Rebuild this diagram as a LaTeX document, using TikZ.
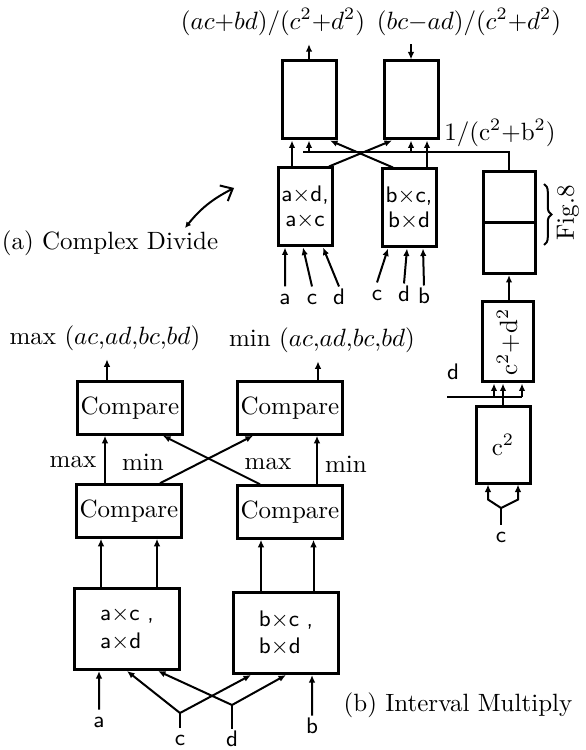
\documentclass[tikz,border=0pt]{standalone}
\usepackage{amsmath,amssymb}
\usepackage{graphicx}
\usepackage{tikz}
\usetikzlibrary{arrows.meta,calc,positioning,decorations.pathreplacing}

\begin{document}
\begin{tikzpicture}[
      x=0.4pt, y=-0.4pt,
      tall/.style={draw, line width=1.2pt, minimum width=21.6pt, minimum height=31.2pt, inner sep=1pt, align=center, font=\small\sffamily},
      half/.style={draw, line width=1.2pt, minimum width=20.8pt, minimum height=20.4pt, inner sep=0pt},
      cmp/.style={draw, line width=1.2pt, minimum width=42pt, minimum height=21pt, inner sep=1pt},
      prod/.style={draw, line width=1.2pt, minimum width=42pt, minimum height=32.4pt, inner sep=1pt, align=left, font=\small\sffamily},
      pin/.style={inner sep=1pt, text height=6pt, text depth=0pt, font=\small\sffamily},
      arr/.style={-{Latex[length=3pt, width=2.6pt]}, line width=0.8pt},
      wire/.style={line width=0.8pt}
  ]
    \useasboundingbox (0,0) rectangle (585,750);

    % (a) complex divide
    \node[tall] (reBox) at (309,100) {};
    \node[tall] (imBox) at (411,100) {};
    \node[tall] (aMul) at (305,207) {a$\times$d,\\[-1pt]a$\times$c};
    \node[tall] (bMul) at (409,208) {b$\times$c,\\[-1pt]b$\times$d};
    \node[half] (figHi) at (509,197) {};
    \node[half] (figLo) at (509,248) {};
    \node[tall, minimum width=20.4pt, minimum height=32pt, font=\normalsize] (cdBox) at (508,342) {\rotatebox{90}{c$^2$+d$^2$}};
    \node[tall, minimum height=30.4pt, font=\normalsize] (ccBox) at (503,445) {c$^2$};

    \node (reOut) at (273,22) {$(ac{+}bd)/(c^2{+}d^2)$};
    \node (imOut) at (469,22) {$(bc{-}ad)/(c^2{+}d^2)$};
    \node (invLbl) at (500,133) {1/(c$^2$+b$^2$)};
    \node (figLbl) at (568,213) {\rotatebox{90}{Fig.8}};
    \node (capA) at (110,243) {(a) Complex Divide};

    \draw[arr] (reBox.north) -- (reBox.north |- reOut.south);
    \draw[arr] (imOut.south -| imBox.north) -- (imBox.north);

    % 1/(c^2+d^2) bus
    \coordinate (busL) at (303,152);
    \draw[wire] (figHi.north) |- (busL);
    \draw[arr] (reBox.south |- busL) -- (reBox.south);
    \draw[arr] (imBox.south |- busL) -- (imBox.south);

    \draw[arr] ([xshift=-5.2pt]aMul.north) -- ([xshift=-5.2pt]aMul.north |- reBox.south);
    \draw[arr] ([xshift=7.2pt]bMul.north) -- ([xshift=7.2pt]bMul.north |- imBox.south);
    \draw[arr] ([xshift=9.6pt]aMul.north) -- ([xshift=-7.6pt]imBox.south);
    \draw[arr] ([xshift=-6.4pt]bMul.north) -- ([xshift=8.4pt]reBox.south);

    \node[pin] (pa1) at (285,297) {a};
    \node[pin] (pc1) at (312,297) {c};
    \node[pin] (pd1) at (339,297) {d};
    \node[pin] (pc2) at (377,293) {c};
    \node[pin] (pd2) at (404,294) {d};
    \node[pin] (pb2) at (424,296) {b};
    \draw[arr] (pa1.north) -- ([xshift=-8pt]aMul.south);
    \draw[arr] (pc1.north) -- ([xshift=-0.8pt]aMul.south);
    \draw[arr] (pd1.north) -- ([xshift=7.2pt]aMul.south);
    \draw[arr] (pc2.north) -- ([xshift=-8.4pt]bMul.south);
    \draw[arr] (pd2.north) -- ([xshift=-0.8pt]bMul.south);
    \draw[arr] (pb2.north) -- ([xshift=5.6pt]bMul.south);

    \draw[decorate, decoration={brace, amplitude=3pt}, line width=0.8pt]
      ([xshift=3pt, yshift=-5.6pt]figHi.north east) -- ([xshift=3pt, yshift=12pt]figLo.south east);

    % c^2 + d^2 chain
    \draw[arr] (cdBox.north -| figLo.south) -- (figLo.south);
    \draw[arr] (ccBox.north) -- (ccBox.north |- cdBox.south);
    \node[pin] (pd3) at (453,372) {d};
    \coordinate (dBus) at (447,397);
    \draw[wire] (dBus) -- ([xshift=5.6pt]cdBox.south |- dBus);
    \draw[arr] ([xshift=-5.6pt]cdBox.south |- dBus) -- ([xshift=-5.6pt]cdBox.south);
    \draw[arr] ([xshift=5.6pt]cdBox.south |- dBus) -- ([xshift=5.6pt]cdBox.south);

    \node[pin] (pc3) at (501,535) {c};
    \coordinate (ccJ) at (501,508);
    \draw[wire] (pc3.north) -- (ccJ);
    \draw[arr] (ccJ) -- ([xshift=-6pt, yshift=-6pt]ccBox.south) -- ([xshift=-6pt]ccBox.south);
    \draw[arr] (ccJ) -- ([xshift=6pt, yshift=-6pt]ccBox.south) -- ([xshift=6pt]ccBox.south);

    \coordinate (hookS) at (185,228);
    \coordinate (hookE) at (234,188);
    \draw[{Latex[length=2.4pt, width=2.4pt]}-{Straight Barb[length=4pt, width=7pt]}, line width=0.8pt]
      (hookS) to[bend left=12] (hookE);

    % (b) interval multiply
    \node (maxOut) at (105,338) {max $(ac{,}ad{,}bc{,}bd)$};
    \node (minOut) at (322,340) {min $(ac{,}ad{,}bc{,}bd)$};
    \node[cmp] (maxBox) at (130,408) {Compare};
    \node[cmp] (minBox) at (290,408) {Compare};
    \node[cmp] (lCmp) at (129,511) {Compare};
    \node[cmp] (rCmp) at (290,512) {Compare};
    \node[prod] (aProd) at (127,629) {a$\times$c ,\\a$\times$d};
    \node[prod] (bProd) at (286,633) {b$\times$c ,\\b$\times$d};
    \node (capB) at (458,705) {(b) Interval Multiply};

    \draw[arr] ([xshift=-9.2pt]maxBox.north) -- ([xshift=-9.2pt]maxBox.north |- maxOut.south);
    \draw[arr] ([xshift=11.2pt]minBox.north) -- ([xshift=11.2pt]minBox.north |- minOut.south);

    \draw[arr] ([xshift=-9.6pt]lCmp.north) -- ([xshift=-9.6pt]lCmp.north |- maxBox.south);
    \draw[arr] ([xshift=12.4pt]lCmp.north) -- ([xshift=-14.8pt]minBox.south);
    \draw[arr] ([xshift=-12pt]rCmp.north) -- ([xshift=13.2pt]maxBox.south);
    \draw[arr] ([xshift=10.8pt]rCmp.north) -- ([xshift=10.8pt]rCmp.north |- minBox.south);
    \node (lMax) at (73,462) {max};
    \node (lMin) at (143,462) {min};
    \node (rMax) at (268,464) {max};
    \node (rMin) at (346,464) {min};

    \draw[arr] ([xshift=-10.4pt]aProd.north) -- ([xshift=-10.4pt]aProd.north |- lCmp.south);
    \draw[arr] ([xshift=12pt]aProd.north) -- ([xshift=12pt]aProd.north |- lCmp.south);
    \draw[arr] ([xshift=-10pt]bProd.north) -- ([xshift=-10pt]bProd.north |- rCmp.south);
    \draw[arr] ([xshift=11pt]bProd.north) -- ([xshift=11pt]bProd.north |- rCmp.south);

    \node[pin] (pa) at (99,720) {a};
    \node[pin] (pc) at (180,738) {c};
    \node[pin] (pd) at (232,739) {d};
    \node[pin] (pb) at (312,726) {b};
    \coordinate (cFork) at (180,713);
    \coordinate (dFork) at (232,705);
    \draw[arr] (pa.north) -- ([xshift=-11.2pt]aProd.south);
    \draw[wire] (pc.north) -- (cFork);
    \draw[arr] (cFork) -- (aProd.south);
    \draw[arr] (cFork) -- ([xshift=-14pt]bProd.south);
    \draw[wire] (pd.north) -- (dFork);
    \draw[arr] (dFork) -- ([xshift=12.4pt]aProd.south);
    \draw[arr] (dFork) -- (bProd.south);
    \draw[arr] (pb.north) -- ([xshift=10.4pt]bProd.south);
  \end{tikzpicture}
\end{document}
